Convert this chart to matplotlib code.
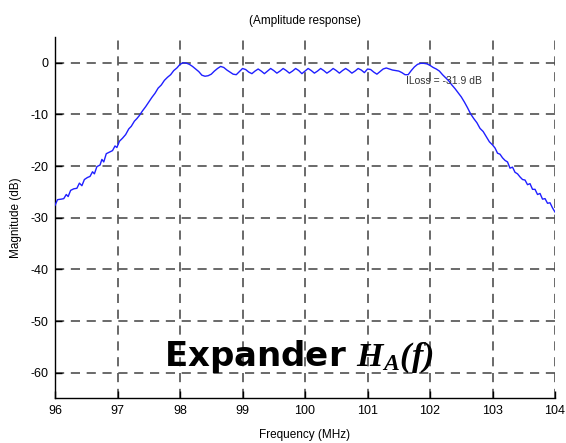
import matplotlib
matplotlib.use("Agg")
import matplotlib.pyplot as plt

plt.rcParams['mathtext.fontset'] = 'custom'
plt.rcParams['mathtext.it'] = 'Liberation Serif:bold:italic'
plt.rcParams['mathtext.rm'] = 'Liberation Serif:bold:italic'
plt.rcParams['mathtext.bf'] = 'Liberation Serif:bold:italic'

# Amplitude response of the expander filter
freq_mhz = [
    96.00, 96.04, 96.10, 96.14, 96.18, 96.21, 96.25, 96.30, 96.35, 96.39,
    96.43, 96.47, 96.52, 96.56, 96.60, 96.63, 96.67, 96.72, 96.75, 96.78,
    96.82, 96.87, 96.92, 96.96, 96.99, 97.03, 97.08, 97.13, 97.18, 97.22,
    97.27, 97.31, 97.35, 97.40, 97.45, 97.50, 97.55, 97.60, 97.65, 97.70,
    97.75, 97.80, 97.85, 97.90, 97.95, 98.00, 98.05, 98.10, 98.15, 98.20,
    98.25, 98.30, 98.35, 98.40, 98.45, 98.50, 98.55, 98.60, 98.65, 98.70,
    98.75, 98.80, 98.85, 98.90, 98.95, 99.00, 99.05, 99.10, 99.15, 99.20,
    99.25, 99.30, 99.35, 99.40, 99.45, 99.50, 99.55, 99.60, 99.65, 99.70,
    99.75, 99.80, 99.85, 99.90, 99.95, 100.00, 100.05, 100.10, 100.15, 100.20,
    100.25, 100.30, 100.35, 100.40, 100.45, 100.50, 100.55, 100.60, 100.65, 100.70,
    100.75, 100.80, 100.85, 100.90, 100.95, 101.00, 101.05, 101.10, 101.15, 101.20,
    101.25, 101.30, 101.35, 101.40, 101.45, 101.50, 101.55, 101.60, 101.65, 101.70,
    101.75, 101.80, 101.85, 101.90, 101.95, 102.00, 102.05, 102.10, 102.15, 102.20,
    102.25, 102.30, 102.35, 102.40, 102.45, 102.50, 102.55, 102.60, 102.65, 102.70,
    102.75, 102.80, 102.85, 102.90, 102.95, 103.00, 103.04, 103.08, 103.12, 103.16,
    103.20, 103.24, 103.28, 103.32, 103.36, 103.40, 103.44, 103.48, 103.52, 103.56,
    103.60, 103.64, 103.68, 103.72, 103.76, 103.80, 103.84, 103.88, 103.92, 103.96,
    104.00,
]
magnitude_db = [
    -27.6, -26.5, -26.4, -26.3, -25.5, -25.9, -24.7, -24.4, -24.3, -23.3,
    -23.8, -22.6, -22.2, -22.0, -21.1, -21.5, -20.1, -19.8, -18.7, -19.2,
    -17.6, -17.3, -17.0, -16.1, -16.4, -15.2, -14.6, -13.9, -12.8, -12.3,
    -11.3, -10.8, -10.2, -9.3, -8.5, -7.6, -6.7, -5.9, -4.9, -4.3,
    -3.4, -2.8, -2.3, -1.5, -1.0, -0.3, 0.0, -0.05, -0.3, -0.7,
    -1.2, -1.7, -2.4, -2.6, -2.5, -2.2, -1.6, -1.1, -0.7, -0.9,
    -1.4, -1.8, -2.2, -2.3, -1.7, -1.1, -1.3, -1.8, -2.1, -1.6,
    -1.2, -1.6, -2.1, -1.6, -1.1, -1.5, -2.0, -1.6, -1.1, -1.5,
    -2.0, -1.6, -1.1, -1.5, -2.1, -1.6, -1.1, -1.5, -2.0, -1.6,
    -1.1, -1.5, -2.0, -1.6, -1.1, -1.5, -2.0, -1.5, -1.1, -1.5,
    -2.0, -1.6, -1.1, -1.4, -1.9, -1.2, -1.3, -1.8, -2.2, -1.7,
    -1.2, -1.0, -1.2, -1.4, -1.5, -1.6, -1.9, -2.3, -2.3, -1.5,
    -0.8, -0.3, -0.1, -0.1, -0.2, -0.5, -0.9, -1.2, -1.6, -2.3,
    -2.9, -3.5, -4.3, -5.0, -5.8, -6.6, -7.6, -8.7, -9.9, -10.8,
    -11.6, -12.7, -13.3, -14.3, -15.3, -15.9, -16.5, -17.5, -17.7, -18.4,
    -18.9, -19.2, -20.4, -20.2, -21.2, -21.5, -22.1, -22.6, -22.7, -23.6,
    -23.4, -24.5, -24.5, -25.5, -25.3, -26.4, -26.3, -27.2, -27.1, -28.1,
    -28.9,
]

x_ticks = [96, 97, 98, 99, 100, 101, 102, 103, 104]
y_ticks = [0, -10, -20, -30, -40, -50, -60]
insertion_loss_db = -31.9

fig = plt.figure(figsize=(5.66, 4.43), dpi=100)
ax = fig.add_axes([0.0972, 0.1005, 0.8834, 0.8160])

ax.plot(freq_mhz, magnitude_db, color='#1f1fff', linewidth=1.0, zorder=3)

ax.set_xlim(96, 104)
ax.set_ylim(-65, 5)
ax.set_xticks(x_ticks)
ax.set_yticks(y_ticks)
ax.set_xticklabels([str(t) for t in x_ticks])
ax.set_yticklabels([str(t) for t in y_ticks])

for lbl in ax.get_xticklabels() + ax.get_yticklabels():
    lbl.set_family('Liberation Sans')
    lbl.set_fontsize(9)

ax.tick_params(direction='in', length=5, width=1.0, color='black', pad=5)
ax.grid(True, color='#505050', linestyle=(0, (5.5, 4)), linewidth=1.2)
ax.set_axisbelow(True)

ax.spines['top'].set_visible(False)
ax.spines['right'].set_visible(False)
ax.spines['left'].set_linewidth(1.0)
ax.spines['bottom'].set_linewidth(1.0)

ax.set_title('(Amplitude response)', fontsize=8.5, family='Liberation Sans', pad=9)
ax.set_xlabel('Frequency (MHz)', fontsize=8.5, family='Liberation Sans', labelpad=8)
ax.set_ylabel('Magnitude (dB)', fontsize=8.5, family='Liberation Sans', labelpad=6)

ax.text(101.61, -3.6, f'ILoss = {insertion_loss_db} dB', fontsize=7.5,
        family='Liberation Sans', color='#333333', va='center', ha='left', zorder=4)

ax.text(99.9, -58.6, r'Expander $H_A(f)$', fontsize=24.5, fontweight='bold',
        family='DejaVu Sans', ha='center', va='baseline', zorder=5)

fig.savefig('out.png', dpi=100)
